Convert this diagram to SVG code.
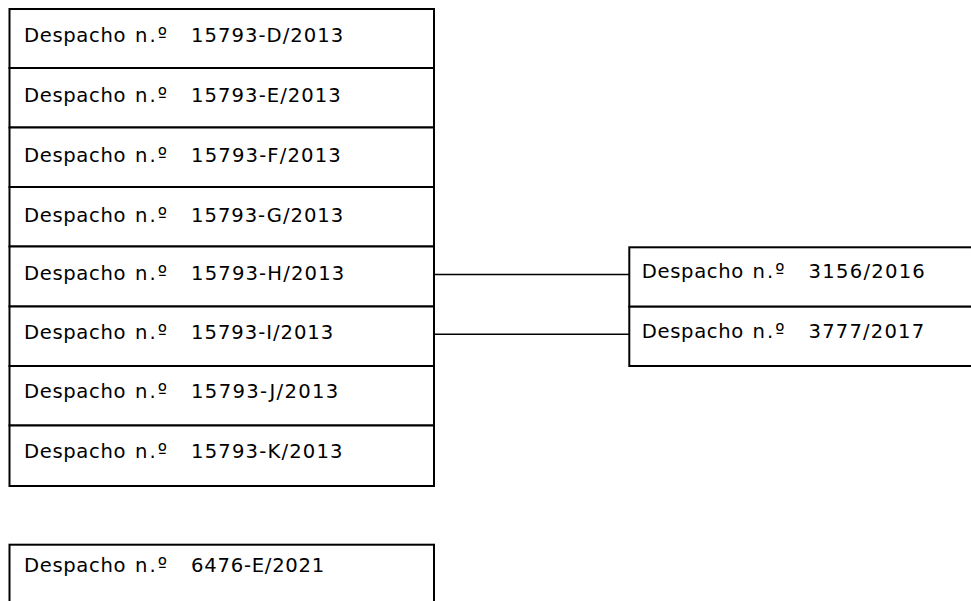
<svg xmlns="http://www.w3.org/2000/svg" width="971" height="601" viewBox="0 0 971 601">
<style>
.box{fill:#fff;stroke:#000;stroke-width:2}
.t{font-family:"DejaVu Sans","Liberation Sans",sans-serif;font-size:19.6px;fill:#000}
.c{stroke:#000;stroke-width:1.4;fill:none}
</style>
<rect x="0" y="0" width="971" height="601" fill="#fff"/>
<g id="connectors">
<line class="c" x1="434" y1="274.5" x2="629.3" y2="274.5"/>
<line class="c" x1="434" y1="334.3" x2="629.3" y2="334.3"/>
</g>
<g id="n15793D"><rect class="box" x="9.5" y="9" width="424.5" height="59"/><text class="t" y="41.7"><tspan x="24" textLength="101.5">Despacho</tspan> <tspan x="135" textLength="32">n.º</tspan> <tspan x="191.1" textLength="152.1">15793-D/2013</tspan></text></g>
<g id="n15793E"><rect class="box" x="9.5" y="68" width="424.5" height="59.5"/><text class="t" y="101.7"><tspan x="24" textLength="101.5">Despacho</tspan> <tspan x="135" textLength="32">n.º</tspan> <tspan x="191.1" textLength="149.7">15793-E/2013</tspan></text></g>
<g id="n15793F"><rect class="box" x="9.5" y="127.5" width="424.5" height="59.5"/><text class="t" y="161.7"><tspan x="24" textLength="101.5">Despacho</tspan> <tspan x="135" textLength="32">n.º</tspan> <tspan x="191.1" textLength="149.7">15793-F/2013</tspan></text></g>
<g id="n15793G"><rect class="box" x="9.5" y="187" width="424.5" height="59.5"/><text class="t" y="221.7"><tspan x="24" textLength="101.5">Despacho</tspan> <tspan x="135" textLength="32">n.º</tspan> <tspan x="191.1" textLength="152.1">15793-G/2013</tspan></text></g>
<g id="n15793H"><rect class="box" x="9.5" y="246.5" width="424.5" height="60"/><text class="t" y="280"><tspan x="24" textLength="101.5">Despacho</tspan> <tspan x="135" textLength="32">n.º</tspan> <tspan x="191.1" textLength="153.1">15793-H/2013</tspan></text></g>
<g id="n15793I"><rect class="box" x="9.5" y="306.5" width="424.5" height="59.5"/><text class="t" y="339.3"><tspan x="24" textLength="101.5">Despacho</tspan> <tspan x="135" textLength="32">n.º</tspan> <tspan x="191.1" textLength="142.1">15793-I/2013</tspan></text></g>
<g id="n15793J"><rect class="box" x="9.5" y="366" width="424.5" height="59.5"/><text class="t" y="398.3"><tspan x="24" textLength="101.5">Despacho</tspan> <tspan x="135" textLength="32">n.º</tspan> <tspan x="191.1" textLength="147.1">15793-J/2013</tspan></text></g>
<g id="n15793K"><rect class="box" x="9.5" y="425.5" width="424.5" height="60.5"/><text class="t" y="458.3"><tspan x="24" textLength="101.5">Despacho</tspan> <tspan x="135" textLength="32">n.º</tspan> <tspan x="191.1" textLength="151.4">15793-K/2013</tspan></text></g>
<g id="n6476E"><rect class="box" x="9.5" y="544.7" width="424.5" height="80"/><text class="t" y="571.7"><tspan x="24" textLength="101.5">Despacho</tspan> <tspan x="135" textLength="32">n.º</tspan> <tspan x="191.1" textLength="133.1">6476-E/2021</tspan></text></g>
<g id="n3156"><rect class="box" x="629.3" y="247.3" width="360" height="59.4"/><text class="t" y="278.3"><tspan x="641.8" textLength="101.5">Despacho</tspan> <tspan x="752.5" textLength="32">n.º</tspan> <tspan x="808.6" textLength="116.2">3156/2016</tspan></text></g>
<g id="n3777"><rect class="box" x="629.3" y="306.7" width="360" height="59.3"/><text class="t" y="338.3"><tspan x="641.8" textLength="101.5">Despacho</tspan> <tspan x="752.5" textLength="32">n.º</tspan> <tspan x="808.6" textLength="115.6">3777/2017</tspan></text></g>
</svg>
